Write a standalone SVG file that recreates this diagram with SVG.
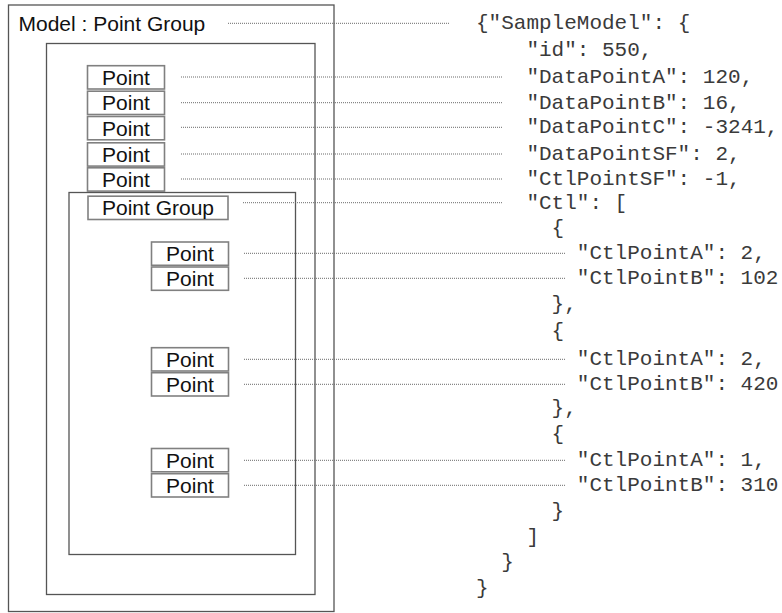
<svg xmlns="http://www.w3.org/2000/svg" width="782" height="613" viewBox="0 0 782 613">
<style>
  .container { fill: none; stroke: #555; stroke-width: 1.3; }
  .box { fill: #fff; stroke: #808080; stroke-width: 1.6; }
  .lbl { font-family: "Liberation Sans", Arial, sans-serif; font-size: 21px; fill: #111; }
  .mid { text-anchor: middle; }
  .json { font-family: "Liberation Mono", "Courier New", monospace; font-size: 21px; fill: #3a3a3a; }
  .conn { stroke: #6a6a6a; stroke-width: 1; stroke-dasharray: 1 1; fill: none; }
</style>
<rect width="782" height="613" fill="#fff"/>

<g id="model-container">
  <rect class="container" x="8.5" y="5" width="325.5" height="606.5"/>
  <text class="lbl" x="18.5" y="31">Model : Point Group</text>
</g>
<g id="group-container">
  <rect class="container" x="46.5" y="43.5" width="268.5" height="551"/>
</g>
<g id="ctl-container">
  <rect class="container" x="69" y="192.5" width="226.5" height="362"/>
</g>

<g id="point-1"><rect class="box" x="87.5" y="65.7" width="77" height="23.3"/><text class="lbl mid" x="126" y="84.7">Point</text></g>
<g id="point-2"><rect class="box" x="87.5" y="91.2" width="77" height="23.3"/><text class="lbl mid" x="126" y="110.3">Point</text></g>
<g id="point-3"><rect class="box" x="87.5" y="116.5" width="77" height="23.3"/><text class="lbl mid" x="126" y="135.5">Point</text></g>
<g id="point-4"><rect class="box" x="87.5" y="142.8" width="77" height="23.3"/><text class="lbl mid" x="126" y="161.8">Point</text></g>
<g id="point-5"><rect class="box" x="87.5" y="167.8" width="77" height="23.3"/><text class="lbl mid" x="126" y="186.8">Point</text></g>
<g id="point-group"><rect class="box" x="88" y="196.2" width="140" height="23.3"/><text class="lbl mid" x="158" y="215.3">Point Group</text></g>

<g id="ctl-point-1"><rect class="box" x="151.5" y="242" width="77" height="23.3"/><text class="lbl mid" x="190" y="261">Point</text></g>
<g id="ctl-point-2"><rect class="box" x="151.5" y="267" width="77" height="23.3"/><text class="lbl mid" x="190" y="286">Point</text></g>
<g id="ctl-point-3"><rect class="box" x="151.5" y="347.7" width="77" height="23.3"/><text class="lbl mid" x="190" y="366.7">Point</text></g>
<g id="ctl-point-4"><rect class="box" x="151.5" y="372.7" width="77" height="23.3"/><text class="lbl mid" x="190" y="391.7">Point</text></g>
<g id="ctl-point-5"><rect class="box" x="151.5" y="448.5" width="77" height="23.3"/><text class="lbl mid" x="190" y="467.5">Point</text></g>
<g id="ctl-point-6"><rect class="box" x="151.5" y="473.7" width="77" height="23.3"/><text class="lbl mid" x="190" y="492.7">Point</text></g>

<g id="connectors">
  <line class="conn" x1="228" y1="23.3" x2="450" y2="23.3"/>
  <line class="conn" x1="181" y1="77" x2="502.5" y2="77"/>
  <line class="conn" x1="181" y1="102.7" x2="502.5" y2="102.7"/>
  <line class="conn" x1="181" y1="127.3" x2="502.5" y2="127.3"/>
  <line class="conn" x1="181" y1="154" x2="502.5" y2="154"/>
  <line class="conn" x1="181" y1="179" x2="502.5" y2="179"/>
  <line class="conn" x1="243" y1="202.7" x2="502.5" y2="202.7"/>
  <line class="conn" x1="244" y1="253.3" x2="566" y2="253.3"/>
  <line class="conn" x1="244" y1="278.3" x2="566" y2="278.3"/>
  <line class="conn" x1="244" y1="359.3" x2="566" y2="359.3"/>
  <line class="conn" x1="244" y1="384.3" x2="566" y2="384.3"/>
  <line class="conn" x1="244" y1="460.3" x2="566" y2="460.3"/>
  <line class="conn" x1="244" y1="485.3" x2="566" y2="485.3"/>
</g>

<g id="json">
  <text class="json" x="476" y="29.3">{"SampleModel": {</text>
  <text class="json" x="526.4" y="56">"id": 550,</text>
  <text class="json" x="526.4" y="83">"DataPointA": 120,</text>
  <text class="json" x="526.4" y="108.7">"DataPointB": 16,</text>
  <text class="json" x="526.4" y="133.3">"DataPointC": -3241,</text>
  <text class="json" x="526.4" y="160">"DataPointSF": 2,</text>
  <text class="json" x="526.4" y="185">"CtlPointSF": -1,</text>
  <text class="json" x="526.4" y="208.7">"Ctl": [</text>
  <text class="json" x="551.6" y="234">{</text>
  <text class="json" x="576.8" y="259.3">"CtlPointA": 2,</text>
  <text class="json" x="576.8" y="284.3">"CtlPointB": 102</text>
  <text class="json" x="551.6" y="310">},</text>
  <text class="json" x="551.6" y="337">{</text>
  <text class="json" x="576.8" y="365.3">"CtlPointA": 2,</text>
  <text class="json" x="576.8" y="390.3">"CtlPointB": 420</text>
  <text class="json" x="551.6" y="414">},</text>
  <text class="json" x="551.6" y="440">{</text>
  <text class="json" x="576.8" y="466.3">"CtlPointA": 1,</text>
  <text class="json" x="576.8" y="491.3">"CtlPointB": 310</text>
  <text class="json" x="551.6" y="517">}</text>
  <text class="json" x="526.4" y="543">]</text>
  <text class="json" x="501.2" y="568">}</text>
  <text class="json" x="476" y="593.5">}</text>
</g>
</svg>
